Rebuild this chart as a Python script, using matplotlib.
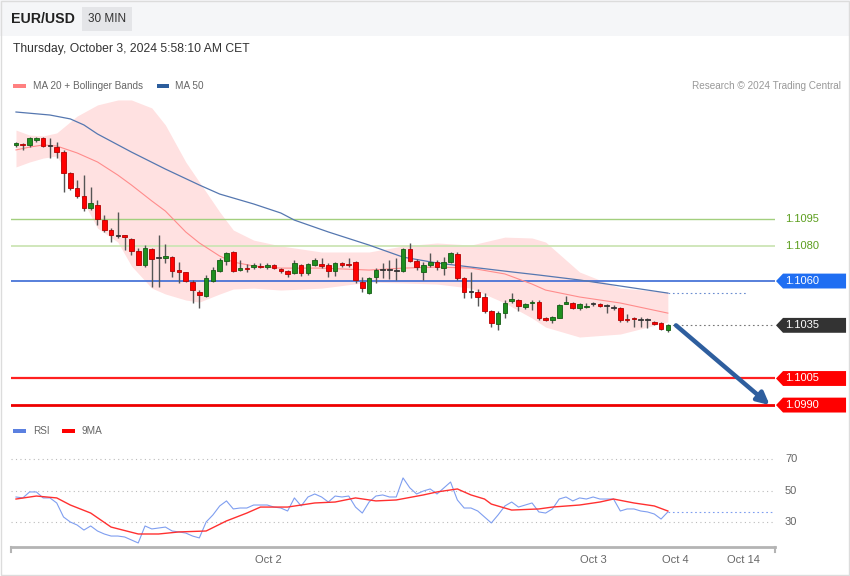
import matplotlib
matplotlib.use('Agg')
import matplotlib.pyplot as plt
from matplotlib.patches import Rectangle, Polygon
import numpy as np

plt.rcParams['font.family'] = ['Liberation Sans', 'DejaVu Sans']

symbol = 'EUR/USD'
period = '30 MIN'
stamp = 'Thursday, October 3, 2024 5:58:10 AM CET'

# 30 min candles
opens = [1.11368, 1.11373, 1.11368, 1.11396, 1.11407, 1.11362, 1.11356, 1.11328, 1.11210, 1.11125,
         1.11080, 1.11012, 1.11029, 1.10944, 1.10888, 1.10854, 1.10860, 1.10837, 1.10769, 1.10690,
         1.10781, 1.10730, 1.10730, 1.10735, 1.10662, 1.10651, 1.10594, 1.10538, 1.10515, 1.10600,
         1.10656, 1.10713, 1.10764, 1.10662, 1.10673, 1.10679, 1.10685, 1.10679, 1.10690, 1.10668,
         1.10656, 1.10645, 1.10690, 1.10645, 1.10690, 1.10696, 1.10690, 1.10656, 1.10702, 1.10696,
         1.10707, 1.10594, 1.10532, 1.10623, 1.10662, 1.10662, 1.10656, 1.10656, 1.10781, 1.10713,
         1.10651, 1.10690, 1.10707, 1.10673, 1.10707, 1.10752, 1.10617, 1.10538, 1.10538, 1.10510,
         1.10431, 1.10357, 1.10419, 1.10487, 1.10493, 1.10453, 1.10476, 1.10481, 1.10391, 1.10380,
         1.10391, 1.10470, 1.10476, 1.10448, 1.10453, 1.10470, 1.10470, 1.10459, 1.10448, 1.10448,
         1.10386, 1.10391, 1.10380, 1.10380, 1.10369, 1.10363, 1.10323]
highs = [1.11385, 1.11379, 1.11413, 1.11413, 1.11413, 1.11407, 1.11385, 1.11340, 1.11215, 1.11170,
         1.11198, 1.11131, 1.11057, 1.10973, 1.10899, 1.10990, 1.10862, 1.10843, 1.10786, 1.10803,
         1.10786, 1.10860, 1.10809, 1.10741, 1.10707, 1.10653, 1.10606, 1.10549, 1.10634, 1.10679,
         1.10730, 1.10764, 1.10769, 1.10719, 1.10696, 1.10702, 1.10702, 1.10702, 1.10696, 1.10673,
         1.10662, 1.10719, 1.10696, 1.10702, 1.10730, 1.10730, 1.10702, 1.10707, 1.10707, 1.10730,
         1.10713, 1.10623, 1.10623, 1.10673, 1.10702, 1.10719, 1.10730, 1.10786, 1.10815, 1.10724,
         1.10707, 1.10758, 1.10719, 1.10735, 1.10764, 1.10764, 1.10623, 1.10651, 1.10555, 1.10532,
         1.10436, 1.10431, 1.10493, 1.10532, 1.10498, 1.10476, 1.10493, 1.10493, 1.10397, 1.10402,
         1.10470, 1.10515, 1.10481, 1.10476, 1.10476, 1.10481, 1.10476, 1.10470, 1.10465, 1.10453,
         1.10414, 1.10397, 1.10397, 1.10391, 1.10374, 1.10369, 1.10357]
lows = [1.11356, 1.11340, 1.11356, 1.11385, 1.11356, 1.11294, 1.11294, 1.11102, 1.11114, 1.11069,
        1.10995, 1.11001, 1.10916, 1.10877, 1.10820, 1.10843, 1.10775, 1.10747, 1.10688, 1.10679,
        1.10566, 1.10566, 1.10702, 1.10623, 1.10589, 1.10594, 1.10476, 1.10448, 1.10510, 1.10594,
        1.10651, 1.10690, 1.10651, 1.10656, 1.10651, 1.10668, 1.10673, 1.10668, 1.10668, 1.10645,
        1.10623, 1.10640, 1.10628, 1.10634, 1.10685, 1.10673, 1.10623, 1.10628, 1.10679, 1.10679,
        1.10589, 1.10538, 1.10527, 1.10589, 1.10617, 1.10611, 1.10606, 1.10651, 1.10707, 1.10662,
        1.10606, 1.10679, 1.10662, 1.10634, 1.10702, 1.10606, 1.10504, 1.10504, 1.10459, 1.10419,
        1.10340, 1.10323, 1.10391, 1.10476, 1.10431, 1.10442, 1.10436, 1.10380, 1.10374, 1.10363,
        1.10389, 1.10468, 1.10442, 1.10436, 1.10448, 1.10459, 1.10453, 1.10419, 1.10436, 1.10369,
        1.10369, 1.10340, 1.10340, 1.10335, 1.10352, 1.10323, 1.10312]
closes = [1.11379, 1.11368, 1.11407, 1.11407, 1.11362, 1.11360, 1.11328, 1.11210, 1.11125, 1.11080,
          1.11012, 1.11040, 1.10950, 1.10888, 1.10860, 1.10852, 1.10848, 1.10769, 1.10690, 1.10786,
          1.10724, 1.10728, 1.10741, 1.10656, 1.10651, 1.10600, 1.10549, 1.10521, 1.10617, 1.10662,
          1.10719, 1.10758, 1.10656, 1.10673, 1.10668, 1.10690, 1.10679, 1.10690, 1.10673, 1.10656,
          1.10640, 1.10702, 1.10645, 1.10696, 1.10719, 1.10685, 1.10656, 1.10702, 1.10690, 1.10692,
          1.10606, 1.10560, 1.10617, 1.10662, 1.10660, 1.10660, 1.10654, 1.10781, 1.10713, 1.10679,
          1.10690, 1.10707, 1.10679, 1.10707, 1.10758, 1.10617, 1.10538, 1.10536, 1.10510, 1.10431,
          1.10363, 1.10419, 1.10476, 1.10498, 1.10459, 1.10470, 1.10481, 1.10391, 1.10380, 1.10397,
          1.10465, 1.10481, 1.10448, 1.10470, 1.10459, 1.10468, 1.10459, 1.10457, 1.10446, 1.10380,
          1.10380, 1.10386, 1.10378, 1.10378, 1.10357, 1.10329, 1.10352]

# MA 20 + Bollinger bands (sampled at candle index)
band_idx = [0, 2, 4, 6, 9, 12, 15, 17, 20, 22, 25, 27, 30, 32, 35, 39, 45, 52, 57, 62, 67, 72, 76, 78, 83, 89, 96]
ma20 = [1.11340, 1.11356, 1.11368, 1.11362, 1.11323, 1.11272, 1.11198, 1.11142, 1.11052, 1.10995,
        1.10877, 1.10815, 1.10741, 1.10707, 1.10685, 1.10673, 1.10673, 1.10662, 1.10673, 1.10679,
        1.10673, 1.10640, 1.10583, 1.10549, 1.10510, 1.10476, 1.10419]
bb_up = [1.11452, 1.11424, 1.11419, 1.11436, 1.11531, 1.11594, 1.11622, 1.11622, 1.11577, 1.11481,
         1.11272, 1.11159, 1.10990, 1.10888, 1.10831, 1.10798, 1.10764, 1.10764, 1.10798, 1.10815,
         1.10803, 1.10848, 1.10843, 1.10820, 1.10651, 1.10560, 1.10538]
bb_low = [1.11244, 1.11272, 1.11294, 1.11306, 1.11114, 1.10899, 1.10820, 1.10685, 1.10560, 1.10527,
          1.10493, 1.10481, 1.10527, 1.10555, 1.10560, 1.10549, 1.10560, 1.10594, 1.10589, 1.10583,
          1.10560, 1.10476, 1.10391, 1.10340, 1.10284, 1.10301, 1.10369]

ma50_idx = [0, 5, 8, 10, 12, 17, 22, 27, 30, 35, 39, 41, 46, 52, 57, 62, 67, 72, 77, 83, 89, 96]
ma50 = [1.11554, 1.11537, 1.11515, 1.11481, 1.11430, 1.11328, 1.11232, 1.11142, 1.11091, 1.11035,
        1.10984, 1.10944, 1.10877, 1.10803, 1.10735, 1.10702, 1.10679, 1.10656, 1.10634, 1.10606,
        1.10572, 1.10532]

rsi = [46.2, 45.6, 49.4, 49.4, 45.6, 45.6, 42.4, 33.5, 30.3, 28.4,
       25.2, 27.8, 24.6, 22.7, 21.4, 21.4, 20.8, 18.9, 17.0, 27.8,
       25.9, 26.5, 27.1, 24.6, 24.0, 23.3, 21.4, 20.2, 30.3, 34.8,
       40.5, 43.7, 38.6, 39.2, 39.2, 41.1, 41.1, 41.1, 39.8, 39.2,
       37.3, 45.6, 40.5, 46.2, 48.1, 46.2, 43.0, 46.8, 46.2, 46.8,
       39.8, 36.0, 43.0, 46.8, 47.5, 46.2, 46.2, 58.3, 52.0, 48.1,
       50.0, 51.3, 48.1, 51.9, 55.7, 44.3, 39.2, 39.2, 37.3, 33.5,
       29.7, 34.8, 40.5, 43.0, 39.8, 41.1, 42.4, 36.7, 36.0, 38.6,
       44.9, 46.2, 43.7, 45.6, 44.9, 46.2, 44.9, 44.9, 44.9, 37.3,
       38.6, 38.6, 37.3, 36.7, 35.4, 32.2, 36.7]
ma9_idx = [0, 3, 6, 8, 11, 14, 18, 21, 24, 28, 31, 34, 36, 40, 44, 47, 50, 53, 56, 60,
           62, 65, 67, 69, 70, 73, 77, 79, 83, 86, 88, 91, 94, 96]
ma9 = [44.9, 46.8, 45.6, 41.1, 36.0, 27.1, 22.7, 22.7, 24.0, 24.6, 31.0, 36.0, 39.8, 39.8,
       42.4, 43.0, 45.6, 43.7, 44.3, 47.5, 49.4, 51.3, 47.5, 44.9, 41.7, 37.9, 38.6, 39.8,
       41.1, 43.0, 44.9, 42.4, 40.5, 37.3]

date_pos = [37.1, 85.1, 97.05, 107.1]
date_labels = ['Oct 2', 'Oct 3', 'Oct 4', 'Oct 14']
rsi_levels = [70, 50, 30]

last_price = 1.1035
target = 1.0990
green_levels = [1.1095, 1.1080]
tag_levels = [1.1060, 1.1035, 1.1005, 1.0990]
tag_colors = ['#1f6ef2', '#333333', '#ff0000', '#ff0000']

W, H = 850, 576
fig = plt.figure(figsize=(W / 100, H / 100), dpi=100)
x0, x1 = 11, 775
xlim = (-0.736, 111.78)

ov = fig.add_axes([0, 0, 1, 1])
ov.set_xlim(0, W)
ov.set_ylim(H, 0)
ov.axis('off')
ov.add_patch(Rectangle((0, 0), W, 36, color='#f5f6f8', lw=0))
ov.add_patch(Rectangle((0.5, 0.5), W - 1.5, H - 1.5, fill=False, ec='#dcdcdc', lw=1))
ov.text(11, 19, symbol, fontsize=10.2, fontweight='bold', color='#222222', va='center')
ov.add_patch(Rectangle((82, 7), 50, 24, color='#e4e5e8', lw=0))
ov.text(107, 19, period, fontsize=8.5, color='#333333', va='center', ha='center')
ov.text(13, 49, stamp, fontsize=8.7, color='#333333', va='center')

ov.add_patch(Rectangle((13, 84), 13, 4, color='#ff8080', lw=0))
ov.text(33, 86, 'MA 20 + Bollinger Bands', fontsize=7.2, color='#666666', va='center')
ov.add_patch(Rectangle((157, 84), 12, 4, color='#2c5d9c', lw=0))
ov.text(175, 86, 'MA 50', fontsize=7.2, color='#666666', va='center')
ov.text(841, 86, 'Research \u00a9 2024 Trading Central', fontsize=7.2, color='#999999',
        va='center', ha='right')
ov.add_patch(Rectangle((13, 429), 13, 4, color='#5b80e0', lw=0))
ov.text(33, 431, 'RSI', fontsize=7.2, color='#666666', va='center')
ov.add_patch(Rectangle((62, 429), 13, 4, color='#ff0000', lw=0))
ov.text(82, 431, '9MA', fontsize=7.2, color='#666666', va='center')

# price panel
ax = fig.add_axes([x0 / W, 1 - 415 / H, (x1 - x0) / W, 320 / H])
ax.set_xlim(*xlim)
ax.set_ylim(1.09844, 1.11650)
ax.axis('off')

ax.fill_between(band_idx, bb_low, bb_up, color='#ffe1e1', lw=0, zorder=1)
ax.plot(band_idx, ma20, color='#ff8c8c', lw=0.8, zorder=2)
ax.plot(ma50_idx, ma50, color='#5577b0', lw=0.9, zorder=2)
ax.plot([ma50_idx[-1], 107.6], [ma50[-1], ma50[-1]], color='#6a8cd0', lw=0.8, ls=(0, (1.5, 2.5)))

ax.axhline(green_levels[0], color='#a3cf7e', lw=1, zorder=1.5)
ax.axhline(green_levels[1], color='#cde5b5', lw=1.3, zorder=1.5)
ax.axhline(tag_levels[0], color='#3a6ad4', lw=1.2, zorder=1.5)
ax.plot([len(closes) - 1, xlim[1]], [last_price, last_price], color='#777777', lw=0.8,
        ls=(0, (1.5, 2.5)))
ax.axhline(tag_levels[2], color='#ff2020', lw=1.6, zorder=1.5)
ax.axhline(tag_levels[3], color='#ee0000', lw=2, zorder=1.5)

idx = np.arange(len(closes))
o = np.array(opens)
c = np.array(closes)
ax.vlines(idx, lows, highs, color='#555555', lw=1, zorder=3)
for i in idx:
    diff = c[i] - o[i]
    if abs(diff) <= 0.00003:
        fc, ec = '#333333', '#333333'
    elif diff > 0:
        fc, ec = '#1f8f1f', '#145c14'
    else:
        fc, ec = '#ff0000', '#b30000'
    bot = min(o[i], c[i])
    h = max(abs(diff), 0.00006)
    ax.add_patch(Rectangle((i - 0.34, bot), 0.68, h, fc=fc, ec=ec, lw=0.6, zorder=4))

ax.annotate('', xy=(111.0, target), xytext=(97.2, last_price),
            arrowprops=dict(arrowstyle='-|>', color='#2e5e9e', lw=3.2, mutation_scale=18,
                            shrinkA=0, shrinkB=0), annotation_clip=False, zorder=5)

tr = ax.get_yaxis_transform()
for lv in green_levels:
    ax.text(1.0131, lv, f'{lv:.4f}', transform=tr, fontsize=8, color='#5c9e1e',
            va='center', clip_on=False)
hh = 0.00042
for lv, col in zip(tag_levels, tag_colors):
    poly = Polygon([(1.0013, lv), (1.0105, lv + hh), (1.093, lv + hh), (1.093, lv - hh),
                    (1.0105, lv - hh)], closed=True, transform=tr, color=col, lw=0,
                   clip_on=False)
    ax.add_patch(poly)
    ax.text(1.0131, lv, f'{lv:.4f}', transform=tr, fontsize=8, color='white',
            va='center', clip_on=False)

# RSI panel
rx = fig.add_axes([x0 / W, 1 - 547 / H, (x1 - x0) / W, 107 / H])
rx.set_xlim(*xlim)
rx.set_ylim(14.44, 82.38)
for s in ['top', 'right', 'left']:
    rx.spines[s].set_visible(False)
rx.spines['bottom'].set_color('#b4b4b4')
rx.spines['bottom'].set_linewidth(2)
rx.set_yticks([])
rx.set_xticks(date_pos)
rx.set_xticklabels(date_labels)
rx.tick_params(axis='x', length=0, pad=6, labelsize=8, labelcolor='#666666')
for xe in [0, 1]:
    rx.plot([xe, xe], [0, -0.05], transform=rx.transAxes, color='#b4b4b4', lw=1.5,
            clip_on=False)

for lv in rsi_levels:
    rx.axhline(lv, color='#bbbbbb', lw=0.8, ls=(0, (1, 3)))
    rx.text(1.0131, lv, str(lv), transform=rx.get_yaxis_transform(), fontsize=8,
            color='#666666', va='center', clip_on=False)

rx.plot(idx, rsi, color='#7f9ef0', lw=0.8)
rx.plot([idx[-1], xlim[1]], [rsi[-1], rsi[-1]], color='#7f9ef0', lw=0.8, ls=(0, (1.5, 2.5)))
rx.plot(ma9_idx, ma9, color='#ff3030', lw=1)

fig.savefig('out.png', dpi=100)
